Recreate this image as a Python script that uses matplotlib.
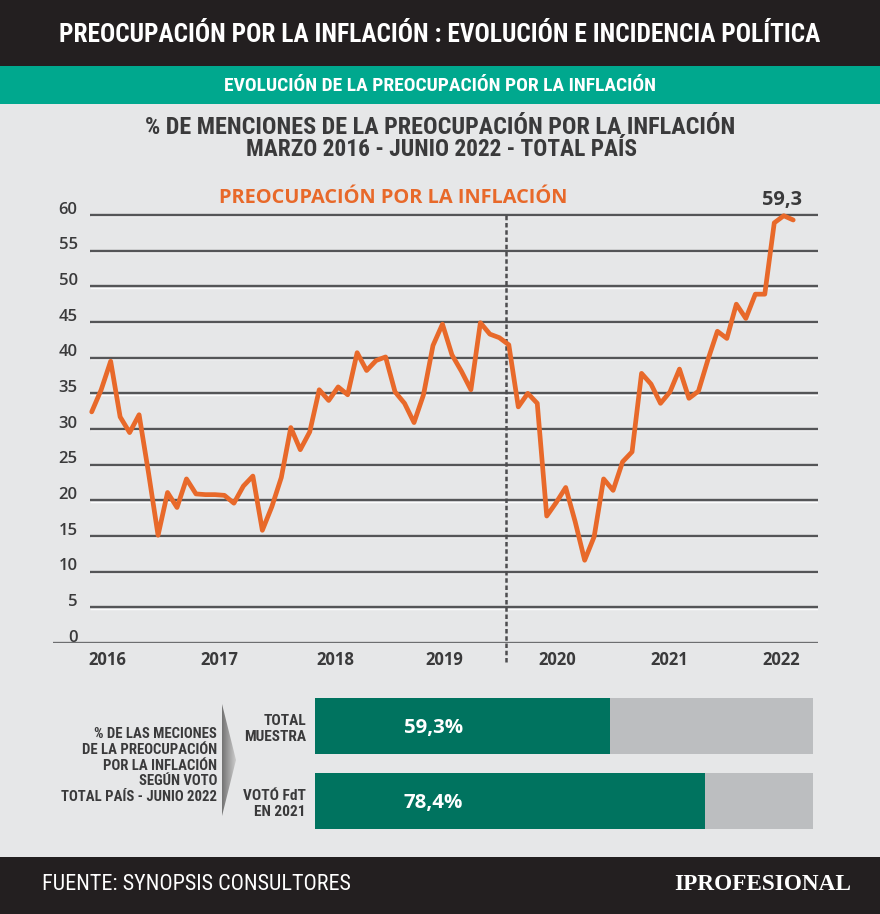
import matplotlib
matplotlib.use('Agg')
import numpy as np
import matplotlib.pyplot as plt
from matplotlib import font_manager as fm
from matplotlib.patches import Rectangle, Polygon

# ---------------- data ----------------
values = [32.4, 35.5, 39.5, 31.7, 29.5, 32.0, 23.8, 15.1, 21.1, 19.0,
          23.0, 20.9, 20.8, 20.8, 20.7, 19.6, 22.0, 23.4, 15.8, 19.1,
          23.2, 30.2, 27.1, 29.6, 35.5, 34.0, 35.9, 34.8, 40.7, 38.2,
          39.6, 40.1, 35.2, 33.6, 30.9, 34.8, 41.7, 44.7, 40.4, 38.1,
          35.5, 44.9, 43.3, 42.8, 41.8, 33.1, 35.0, 33.6, 17.8, 19.7,
          21.8, 17.0, 11.6, 14.9, 23.0, 21.4, 25.4, 26.8, 37.8, 36.3,
          33.6, 35.2, 38.4, 34.3, 35.3, 39.7, 43.7, 42.7, 47.5, 45.5,
          48.9, 48.9, 58.9, 59.9, 59.3]
periods = list(range(len(values)))
year_labels = ['2016', '2017', '2018', '2019', '2020', '2021', '2022']
year_pos = [1.6, 13.5, 25.7, 37.2, 49.1, 60.9, 72.7]
yticks = list(range(0, 61, 5))
gov_change = 43.7
last_label = '59,3'

bar_cats = ['TOTAL\nMUESTRA', 'VOTÓ FdT\nEN 2021']
bar_vals = [59.3, 78.4]
bar_texts = ['59,3%', '78,4%']

# ---------------- fonts ----------------
names = {f.name for f in fm.fontManager.ttflist}
def pick(cands):
    for c in cands:
        if c in names:
            return c
    return 'DejaVu Sans'
COND = pick(['Roboto Condensed', 'Open Sans Condensed', 'Liberation Sans Narrow', 'DejaVu Sans'])
SANS = pick(['Open Sans', 'Noto Sans', 'DejaVu Sans'])
NARROW = pick(['Liberation Sans Narrow', 'Roboto Condensed', 'Liberation Sans', 'DejaVu Sans'])
SERIF = pick(['Liberation Serif', 'DejaVu Serif'])

BG = '#e6e7e8'
DARK = '#231f20'
TEAL = '#00a88e'
ORANGE = '#e8692a'
TXT = '#3a3a3b'
GRID = '#545557'
GREEN = '#00735f'
LGRAY = '#bcbec0'

W, H = 880, 914
fig = plt.figure(figsize=(W / 100, H / 100), dpi=100, facecolor=BG)
bg = fig.add_axes([0, 0, 1, 1])
bg.set_xlim(0, W)
bg.set_ylim(H, 0)
bg.axis('off')
bg.set_zorder(0)

bg.add_patch(Rectangle((0, 0), W, 66, color=DARK, lw=0))
bg.add_patch(Rectangle((0, 66), W, 38, color=TEAL, lw=0))
bg.add_patch(Rectangle((0, 857), W, 57, color=DARK, lw=0))

fits = []
def txt(x, y, s, width=None, **kw):
    t = bg.text(x, y, s, **kw)
    if width:
        fits.append((t, width))
    return t

ckw = dict(family=COND, fontstretch='condensed', fontweight='bold')
txt(440, 35, 'PREOCUPACIÓN POR LA INFLACIÓN : EVOLUCIÓN E INCIDENCIA POLÍTICA', 761,
    ha='center', va='center', color='white', fontsize=16, **ckw)
txt(440, 86, 'EVOLUCIÓN DE LA PREOCUPACIÓN POR LA INFLACIÓN', 430,
    ha='center', va='center', color='white', fontsize=12, **ckw)
txt(440, 128, '% DE MENCIONES DE LA PREOCUPACIÓN POR LA INFLACIÓN', 595,
    ha='center', va='center', color=TXT, fontsize=15, **ckw)
txt(441, 150, 'MARZO 2016 - JUNIO 2022 - TOTAL PAÍS', 392,
    ha='center', va='center', color=TXT, fontsize=15, **ckw)
txt(393, 198, 'PREOCUPACIÓN POR LA INFLACIÓN', 350,
    ha='center', va='center', color=ORANGE, fontsize=15, family=SANS, fontweight='bold')
txt(782, 200, last_label, 40, ha='center', va='center', color=TXT,
    fontsize=13, family=SANS, fontweight='bold')

# left explanatory block
block = ['% DE LAS MECIONES', 'DE LA PREOCUPACIÓN', 'POR LA INFLACIÓN',
         'SEGÚN VOTO', 'TOTAL PAÍS - JUNIO 2022']
block_y = [734, 750, 766, 781, 797]
block_t = [txt(217, yy, s, None, ha='right', va='center', color=TXT, fontsize=10,
               family=COND, fontstretch='condensed', fontweight='semibold')
           for s, yy in zip(block, block_y)]

# chevron with gradient
chev = Polygon([(222, 704), (236, 760), (222, 816)], closed=True, fc='none', ec='none')
bg.add_patch(chev)
grad = np.linspace(0.45, 0.8, 50)[None, :]
im = bg.imshow(grad, extent=[222, 236, 816, 704], cmap='gray', vmin=0, vmax=1,
               aspect='auto', interpolation='bicubic')
im.set_clip_path(chev)
bg.set_xlim(0, W)
bg.set_ylim(H, 0)

# bar category labels
cat_y = [(721, 737), (796, 812)]
cat_t = []
for cat, (y1, y2) in zip(bar_cats, cat_y):
    l1, l2 = cat.split('\n')
    cat_t.append(txt(306, y1, l1, None, ha='right', va='center', color=TXT, fontsize=11,
                     family=COND, fontstretch='condensed', fontweight='bold'))
    cat_t.append(txt(306, y2, l2, None, ha='right', va='center', color=TXT, fontsize=11,
                     family=COND, fontstretch='condensed', fontweight='bold'))

# footer
txt(42, 885, 'FUENTE: SYNOPSIS CONSULTORES', 307, ha='left', va='center',
    color='white', fontsize=13, family=NARROW, fontstretch='condensed')
txt(674, 885, 'IPROFESIONAL', 177, ha='left', va='center', color='white',
    fontsize=16, family=SERIF, fontweight='bold')

# ---------------- line chart ----------------
x0px, dxpx = 91.7, 9.48
ypx0, ppu = 643, 428 / 60
ax_l, ax_r, ax_t = 53, 818, 200
ax = fig.add_axes([ax_l / W, (H - ypx0) / H, (ax_r - ax_l) / W, (ypx0 - ax_t) / H])
ax.set_facecolor('none')
ax.set_xlim((ax_l - x0px) / dxpx, (ax_r - x0px) / dxpx)
ax.set_ylim(0, (ypx0 - ax_t) / ppu)
for s in ax.spines.values():
    s.set_visible(False)

gx0 = (90 - x0px) / dxpx
gx1 = (ax_r - x0px) / dxpx
for v in yticks[1:]:
    ax.hlines(v - 0.19, gx0, gx1, color='white', lw=1.0, alpha=0.9, zorder=1)
    ax.hlines(v, gx0, gx1, color=GRID, lw=1.7, zorder=1)
ax.axhline(0, color='#6d6e70', lw=2.4, zorder=1)
ax.axhline(-0.24, color='white', lw=1.0, alpha=0.9, zorder=1)

ax.plot(periods, values, color=ORANGE, lw=3.4, solid_joinstyle='round',
        solid_capstyle='round', zorder=4, clip_on=False)
ax.plot([gov_change, gov_change], [-2.7, 60.3], color='#4d4d4f', lw=1.8,
        ls=(0, (1.8, 1.1)), zorder=3, clip_on=False)

ax.set_yticks([])
for v in yticks:
    ax.text((77.5 - x0px) / dxpx, v + 0.75, str(v), ha='right', va='center',
            color=TXT, fontsize=12, family=SANS, fontweight='semibold', clip_on=False)

ax.set_xticks(year_pos)
ax.set_xticklabels(year_labels, family=SANS, fontweight='bold', fontsize=12, color=TXT)
ax.tick_params(axis='x', length=0, pad=6)

# ---------------- bars ----------------
bx_l, bx_r = 315, 813
c0, c1 = 726, 800.5
step = c1 - c0
bax = fig.add_axes([bx_l / W, (H - (c1 + step / 2)) / H, (bx_r - bx_l) / W, (2 * step) / H])
bax.set_facecolor('none')
bax.set_xlim(0, 100)
bax.set_ylim(1.5, -0.5)
bax.axis('off')
bpos = list(range(len(bar_vals)))
bh = 56 / step
bax.barh(bpos, [100] * len(bar_vals), height=bh, color=LGRAY, lw=0)
bax.barh(bpos, bar_vals, height=bh, color=GREEN, lw=0)
pt = []
for p, t in zip(bpos, bar_texts):
    pt.append(bax.text(23.8, p + 0.03, t, ha='center', va='center', color='white',
                       fontsize=15, family=SANS, fontweight='bold'))

# ---------------- fit widths ----------------
r = fig.canvas.get_renderer()
for t, wpx in fits:
    bb = t.get_window_extent(r)
    t.set_fontsize(t.get_fontsize() * wpx / bb.width)

def fit_group(group, ref, wpx):
    bb = ref.get_window_extent(r)
    fs = ref.get_fontsize() * wpx / bb.width
    for t in group:
        t.set_fontsize(fs)

fit_group(block_t, block_t[-1], 157)
fit_group(cat_t, cat_t[1], 62)
fit_group(pt, pt[0], 59)

fig.savefig('out.png', dpi=100, facecolor=BG)
